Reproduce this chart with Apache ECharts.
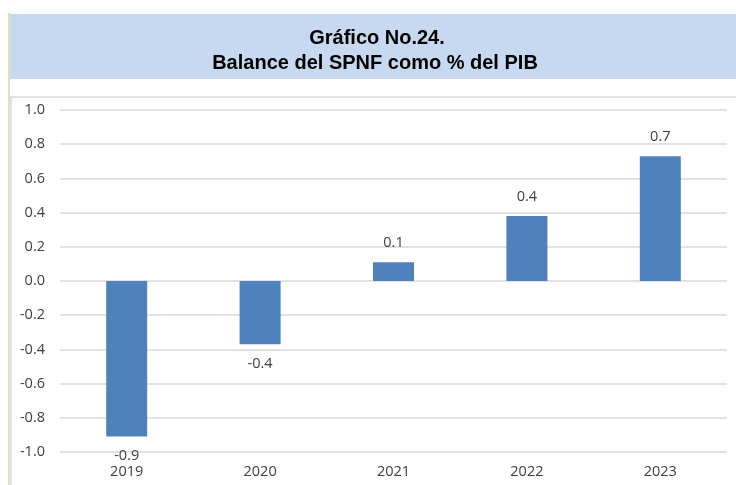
<!DOCTYPE html>
<html>
<head>
<meta charset="utf-8">
<script src="https://cdn.jsdelivr.net/npm/echarts@6/dist/echarts.min.js"></script>
<style>
  html, body { margin: 0; padding: 0; background: #fff; }
  #chart { width: 736px; height: 485px; }
</style>
</head>
<body>
<div id="chart"></div>
<script>
var years = ['2019', '2020', '2021', '2022', '2023'];
var balance = [-0.91, -0.37, 0.11, 0.38, 0.73];
var titleLines = ['Gráfico No.24.', 'Balance del SPNF como % del PIB'];

var chart = echarts.init(document.getElementById('chart'));

var titleFont = 'bold 20px "Liberation Sans Narrow", "Liberation Sans", sans-serif';

chart.setOption({
    animation: false,
    graphic: [
        // title band
        { type: 'rect', shape: { x: 10, y: 14, width: 726, height: 65 }, style: { fill: '#C6D9F1' }, z: 0 },
        // green side line
        { type: 'rect', shape: { x: 8, y: 13, width: 2, height: 472 }, style: { fill: '#D7E4BD' }, z: 1 },
        // chart border
        { type: 'rect', shape: { x: 11, y: 97, width: 730, height: 400 }, style: { fill: 'none', stroke: '#D9D9D9', lineWidth: 1.5 }, z: 0 },
        {
            type: 'text', z: 2,
            style: { x: 377, y: 38, text: titleLines[0], fill: '#000', font: titleFont, align: 'center', verticalAlign: 'middle' }
        },
        {
            type: 'text', z: 2,
            style: { x: 375, y: 63, text: titleLines[1], fill: '#000', font: titleFont, align: 'center', verticalAlign: 'middle' }
        }
    ],
    grid: { left: 60, right: 9, top: 110, bottom: 33, containLabel: false },
    xAxis: {
        type: 'category',
        data: years,
        position: 'bottom',
        axisLine: { show: false, onZero: false },
        axisTick: { show: false },
        axisLabel: { color: '#404040', fontSize: 14.5, fontFamily: 'Open Sans', margin: 12 }
    },
    yAxis: {
        type: 'value',
        min: -1,
        max: 1,
        interval: 0.2,
        axisLine: { show: false },
        axisTick: { show: false },
        splitLine: { lineStyle: { color: '#D9D9D9', width: 1.5 } },
        axisLabel: {
            color: '#404040', fontSize: 14.5, fontFamily: 'Open Sans', margin: 15,
            formatter: function(v) { return v.toFixed(1); }
        }
    },
    series: [{
        type: 'bar',
        data: balance,
        barWidth: 41,
        itemStyle: { color: '#4F81BD' },
        label: {
            show: true,
            position: 'outside',
            color: '#404040',
            fontSize: 14.5,
            fontFamily: 'Open Sans',
            distance: 12,
            formatter: function(p) { return p.value.toFixed(1); }
        }
    }]
});
</script>
</body>
</html>
